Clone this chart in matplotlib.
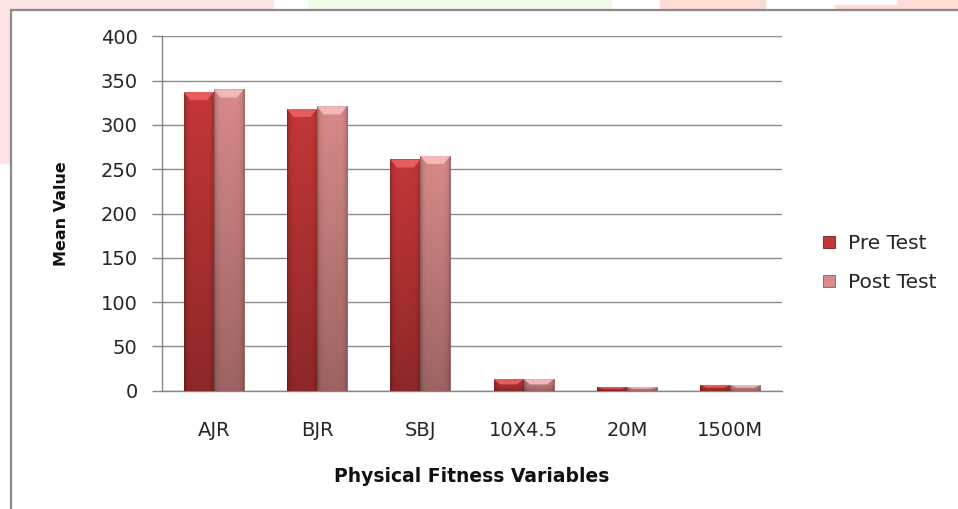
import numpy as np
import matplotlib
matplotlib.use("Agg")
import matplotlib.pyplot as plt
from matplotlib.patches import Rectangle, Polygon
from matplotlib.lines import Line2D
from matplotlib.colors import to_rgb

# Mean values of the physical fitness variables
categories = ["AJR", "BJR", "SBJ", "10X4.5", "20M", "1500M"]
pre_test = [337, 318, 261, 13, 4, 6.5]
post_test = [340, 321, 265, 13, 4, 6.3]
series_names = ["Pre Test", "Post Test"]
y_ticks = [0, 50, 100, 150, 200, 250, 300, 350, 400]

plt.rcParams["font.family"] = ["DejaVu Sans"]

W, H = 958, 509
fig = plt.figure(figsize=(W / 100, H / 100), dpi=100)
fig.patch.set_facecolor("white")


def fx(px):
    return px / W


def fy(py):
    return 1 - py / H


# faint page decoration behind the chart frame
deco = [
    ((0, 0, 273, 10), "#fde4e4"),
    ((0, 0, 10, 163), "#fde4e4"),
    ((308, 0, 303, 10), "#effae7"),
    ((660, 0, 105, 10), "#fddcd5"),
    ((835, 5, 63, 5), "#fddcd5"),
    ((898, 0, 60, 10), "#fddcd5"),
]
for (x, y, w, h), c in deco:
    fig.patches.append(Rectangle((fx(x), fy(y + h)), fx(w), h / H,
                                 transform=fig.transFigure, color=c, zorder=0))

# chart frame (left and top edges)
frame_kw = dict(transform=fig.transFigure, color="#8a8a8a", lw=1.6, zorder=1)
fig.lines.append(Line2D([fx(11), fx(11)], [fy(10), 0], **frame_kw))
fig.lines.append(Line2D([fx(11), 1], [fy(10), fy(10)], **frame_kw))

ax_left, ax_right, ax_top, ax_bot = 162, 782, 36.3, 390.7
ax = fig.add_axes([fx(ax_left), fy(ax_bot), fx(ax_right - ax_left),
                   (ax_bot - ax_top) / H])
ax.set_facecolor("none")

x = np.arange(len(categories))
bw = 0.29
pre_col = "#c53737"
post_col = "#d98a8a"
pre_hi = "#e55e5e"
post_hi = "#f2b8b8"

bars_pre = ax.bar(x - bw / 2, pre_test, bw, color=pre_col, edgecolor="#7d1c1c",
                  linewidth=0.6, zorder=3, label=series_names[0])
bars_post = ax.bar(x + bw / 2, post_test, bw, color=post_col, edgecolor="#8e5a5a",
                   linewidth=0.6, zorder=3, label=series_names[1])

ax.set_xlim(-0.5, len(categories) - 0.5)
ax.set_ylim(0, 400)

# pixel height in data units for the bevel depth
px_per_unit = (ax_bot - ax_top) / 400.0


def shade(rect, base, hi):
    x0, y0 = rect.get_x(), rect.get_y()
    w, h = rect.get_width(), rect.get_height()
    nx, ny = 40, 120
    xs = np.linspace(0, 1, nx)
    ys = np.linspace(0, 1, ny)
    hx = 1 - 0.28 * np.exp(-xs / 0.07) - 0.18 * np.exp(-(1 - xs) / 0.07)
    vy = 0.72 + 0.28 * ys
    img = np.array(to_rgb(base))[None, None, :] * hx[None, :, None] * vy[:, None, None]
    img = np.clip(img, 0, 1)
    im = ax.imshow(img, extent=(x0, x0 + w, y0, y0 + h), origin="lower",
                   aspect="auto", interpolation="bilinear", zorder=3.2)
    im.set_clip_path(rect)
    d = min(8 / px_per_unit, h * 0.45)
    top = y0 + h
    ax.add_patch(Polygon([(x0, top), (x0 + w, top), (x0 + 0.78 * w, top - d),
                          (x0 + 0.22 * w, top - d)], closed=True,
                         facecolor=hi, edgecolor="none", zorder=3.4))


for r in bars_pre:
    shade(r, pre_col, pre_hi)
for r in bars_post:
    shade(r, post_col, post_hi)

ax.set_xlim(-0.5, len(categories) - 0.5)
ax.set_ylim(0, 400)

ax.set_yticks(y_ticks)
ax.set_xticks(x)
ax.set_xticklabels(categories)
ax.tick_params(axis="y", direction="out", length=7, width=1, color="#868686",
               pad=10.5, labelsize=14, labelcolor="#262626")
ax.tick_params(axis="x", length=0, pad=22, labelsize=14, labelcolor="#262626")
ax.grid(axis="y", color="#8c8c8c", linewidth=1.0, zorder=0)
ax.set_axisbelow(True)
for s in ("top", "right"):
    ax.spines[s].set_visible(False)
for s in ("left", "bottom"):
    ax.spines[s].set_color("#868686")
    ax.spines[s].set_linewidth(1.0)

ax.set_xlabel("Physical Fitness Variables", fontsize=13.5, fontweight="bold",
              color="#111111")
ax.xaxis.set_label_coords(0.5, (ax_bot - 476) / (ax_bot - ax_top))
ax.xaxis.label.set_va("center")
ax.set_ylabel("Mean Value", fontsize=11.5, fontweight="bold", color="#111111")
ax.yaxis.set_label_coords((61 - ax_left) / (ax_right - ax_left), 0.5)
ax.yaxis.label.set_va("center")

fig.legend(handles=[bars_pre, bars_post], labels=series_names,
           loc="center left", bbox_to_anchor=(fx(823), fy(263)),
           frameon=False, fontsize=14.5, handlelength=0.62, handleheight=0.52,
           handletextpad=0.6, labelspacing=1.0, borderpad=0, borderaxespad=0,
           labelcolor="#262626")

fig.savefig("out.png", dpi=100, facecolor="white")
